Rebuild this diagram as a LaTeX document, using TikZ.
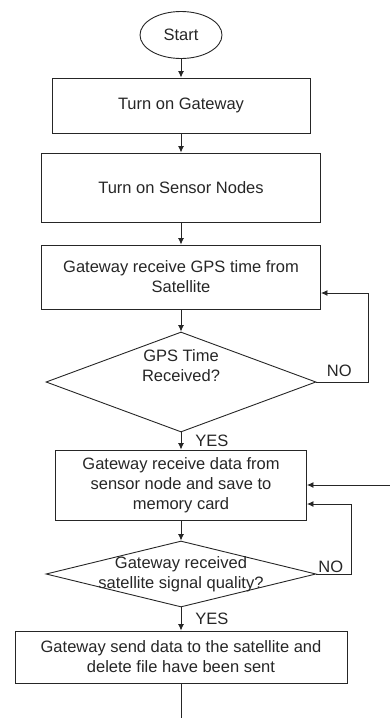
\documentclass[tikz,border=0pt]{standalone}
\usepackage{fontspec}
\setmainfont{Liberation Sans}
\usetikzlibrary{arrows.meta,positioning,shapes.geometric}
\definecolor{LineGray}{HTML}{262626}

\begin{document}
\begin{tikzpicture}[
  x=10pt,y=-10pt,
  every node/.style={font=\fontsize{16.5}{20}\selectfont,text=LineGray},
  terminal/.style={ellipse,draw=LineGray,line width=0.9pt,minimum width=82pt,minimum height=47pt,inner sep=0pt},
  box/.style={rectangle,draw=LineGray,line width=0.9pt,align=center,inner sep=0pt},
  decision/.style={diamond,draw=LineGray,line width=0.9pt,inner sep=0pt,minimum width=270pt},
  txt/.style={align=center,inner sep=0pt},
  flow/.style={-{Latex[length=6.5pt,width=6pt]},line width=0.9pt,LineGray},
  tag/.style={inner sep=2pt}
]
\useasboundingbox (0,0) rectangle (39,71.8);

\node[terminal] (start) at (18.1,3.5) {Start};
\node[box,minimum width=258pt,minimum height=55pt] (gw) at (18.1,10.55) {Turn on Gateway};
\node[box,minimum width=279pt,minimum height=69pt] (sn) at (18.1,18.75) {Turn on Sensor Nodes};
\node[box,minimum width=279pt,minimum height=64pt] (gps) at (18.1,27.7) {Gateway receive GPS time from\\Satellite};
\node[decision,minimum height=100pt] (q1) at (18.1,38.2) {};
\node[txt] (q1t) at ([yshift=16pt]q1.center) {GPS Time\\Received?};
\node[box,minimum width=251pt,minimum height=70pt] (data) at (18.1,48.5) {Gateway receive data from\\sensor node and save to\\memory card};
\node[decision,minimum height=66pt] (q2) at (18.1,57.4) {};
\node[txt] (q2t) at (q2.center) {Gateway received\\satellite signal quality?};
\node[box,minimum width=332pt,minimum height=52pt] (send) at (18.1,65.7) {Gateway send data to the satellite and\\delete file have been sent};

\coordinate (loopin) at (39,48.5);
\coordinate (loopout) at (18.1,71.8);

\draw[flow] (start) -- (gw);
\draw[flow] (gw) -- (sn);
\draw[flow] (sn) -- (gps);
\draw[flow] (gps) -- (q1);
\draw[flow] (q1) -- node[tag,right=12pt] {YES} (data);
\draw[flow] (q1.east) -- node[tag,above=3pt,xshift=-3pt] {NO} (36.8,38.2) |- ([yshift=-16pt]gps.east);
\draw[flow] (loopin) -- (data.east);
\draw[flow] (data) -- (q2);
\draw[flow] (q2) -- node[tag,right=12pt] {YES} (send);
\draw[flow] (q2.east) -- node[tag,above=-1pt,xshift=-3pt] {NO} (35.1,57.4) |- ([yshift=-19pt]data.east);
\draw[line width=0.9pt,LineGray] (send) -- (loopout);
\end{tikzpicture}
\end{document}
